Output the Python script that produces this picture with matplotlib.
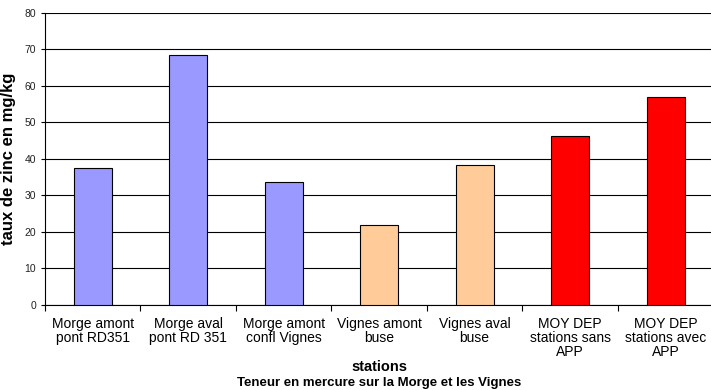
import matplotlib
matplotlib.use("Agg")
import matplotlib.pyplot as plt

stations = [
    "Morge amont\npont RD351",
    "Morge aval\npont RD 351",
    "Morge amont\nconfl Vignes",
    "Vignes amont\nbuse",
    "Vignes aval\nbuse",
    "MOY DEP\nstations sans\nAPP",
    "MOY DEP\nstations avec\nAPP",
]
zinc = [37.5, 68.4, 33.8, 21.8, 38.3, 46.3, 56.9]
colors = ["#9999ff", "#9999ff", "#9999ff", "#ffcc99", "#ffcc99", "#ff0000", "#ff0000"]

plt.rcParams["font.family"] = ["Liberation Sans", "DejaVu Sans"]

fig = plt.figure(figsize=(7.11, 3.9), dpi=100)
ax = fig.add_axes([0.0633, 0.218, 0.94, 0.749])

x = range(len(stations))
ax.bar(x, zinc, width=0.4, color=colors, edgecolor="black", linewidth=0.8, zorder=3)

ax.set_ylim(0, 80)
ax.set_xlim(-0.5, len(stations) - 0.5)
ax.set_yticks(range(0, 81, 10))
ax.yaxis.grid(True, color="black", linewidth=0.8, zorder=0)
ax.tick_params(axis="y", labelsize=7.5, length=3, labelcolor="#222222")

ax.set_xticks([i + 0.5 for i in range(-1, len(stations))], minor=False)
ax.set_xticklabels([])
ax.set_xticks(list(x), minor=True)
ax.set_xticklabels(stations, minor=True, fontsize=10, linespacing=1.0)
ax.tick_params(axis="x", which="major", length=4)
ax.tick_params(axis="x", which="minor", length=0, pad=9)

for side in ["top", "right"]:
    ax.spines[side].set_visible(False)

ax.set_ylabel("taux de zinc en mg/kg", fontsize=12, fontweight="bold", labelpad=6)

fig.text(0.533, 0.058, "stations", ha="center", va="center", fontsize=10.5, fontweight="bold")
fig.text(0.533, 0.003, "Teneur en mercure sur la Morge et les Vignes", ha="center",
         va="bottom", fontsize=9.5, fontweight="bold")

fig.savefig("out.png", dpi=100)
